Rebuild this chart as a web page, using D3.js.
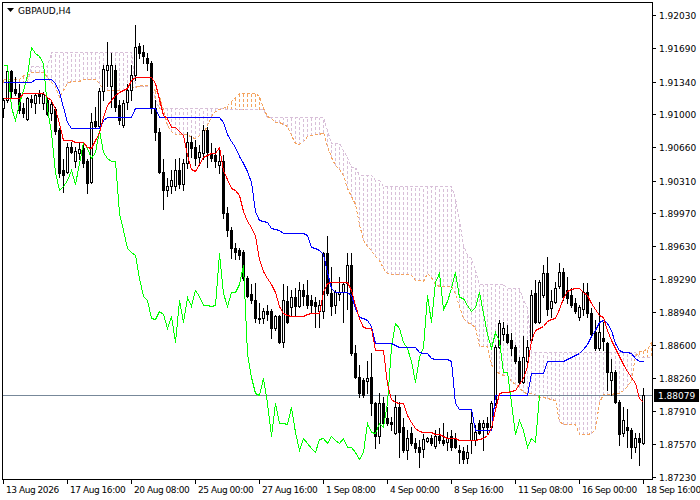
<!DOCTYPE html>
<html><head><meta charset="utf-8">
<script src="https://cdn.jsdelivr.net/npm/d3@7"></script>
<style>html,body{margin:0;padding:0;background:#fff;}svg{display:block;}</style>
</head><body>
<svg id="c" width="700" height="500"></svg>
<script>
const symbol = "GBPAUD,H4";
const lastPrice = 1.88079;
const yTickValues = [1.92030,1.91690,1.91340,1.91000,1.90660,1.90310,1.89970,1.89630,1.89290,1.88940,1.88600,1.88260,1.87910,1.87570,1.87230];
const xTickLabels = ["13 Aug 2026","17 Aug 16:00","20 Aug 08:00","25 Aug 00:00","27 Aug 16:00","1 Sep 08:00","4 Sep 00:00","8 Sep 16:00","11 Sep 08:00","16 Sep 00:00","18 Sep 16:00"];
const barsPerXTick = 16;
const chikouShift = 26;

const open = [1.9106,1.9115,1.9145,1.9126,1.9122,1.9106,1.9095,1.9116,1.9112,1.9122,1.9112,1.9115,1.9101,1.9105,1.9084,1.9042,1.9040,1.9066,1.9051,1.9060,1.9065,1.9051,1.9030,1.9093,1.9088,1.9124,1.9146,1.9129,1.9146,1.9110,1.9089,1.9113,1.9125,1.9141,1.9171,1.9165,1.9159,1.9153,1.9107,1.9082,1.9040,1.9021,1.9025,1.9025,1.9042,1.9027,1.9049,1.9071,1.9066,1.9056,1.9060,1.9084,1.9060,1.9058,1.9047,1.9051,1.8997,1.8980,1.8961,1.8959,1.8957,1.8930,1.8913,1.8907,1.8888,1.8888,1.8895,1.8895,1.8878,1.8890,1.8863,1.8906,1.8900,1.8910,1.8901,1.8917,1.8912,1.8907,1.8905,1.8895,1.8895,1.8956,1.8914,1.8902,1.8913,1.8915,1.8925,1.8943,1.8852,1.8827,1.8824,1.8823,1.8827,1.8800,1.8765,1.8800,1.8784,1.8780,1.8769,1.8796,1.8775,1.8751,1.8769,1.8758,1.8754,1.8752,1.8760,1.8763,1.8755,1.8765,1.8761,1.8759,1.8765,1.8763,1.8751,1.8750,1.8743,1.8761,1.8761,1.8779,1.8775,1.8779,1.8775,1.8800,1.8858,1.8871,1.8871,1.8865,1.8858,1.8843,1.8822,1.8843,1.8865,1.8914,1.8884,1.8912,1.8935,1.8899,1.8905,1.8921,1.8936,1.8917,1.8912,1.8904,1.8889,1.8897,1.8915,1.8893,1.8874,1.8857,1.8867,1.8862,1.8824,1.8832,1.8801,1.8769,1.8775,1.8772,1.8754,1.8763,1.8758];
const high = [1.9117,1.9148,1.9146,1.9139,1.9131,1.9112,1.9118,1.9120,1.9122,1.9125,1.9123,1.9118,1.9115,1.9108,1.9086,1.9053,1.9070,1.9071,1.9066,1.9071,1.9070,1.9053,1.9101,1.9108,1.9127,1.9151,1.9175,1.9164,1.9151,1.9115,1.9115,1.9131,1.9151,1.9193,1.9174,1.9172,1.9164,1.9155,1.9115,1.9086,1.9053,1.9034,1.9042,1.9053,1.9055,1.9053,1.9082,1.9077,1.9073,1.9068,1.9089,1.9087,1.9070,1.9065,1.9063,1.9058,1.9004,1.8983,1.8966,1.8961,1.8959,1.8932,1.8923,1.8925,1.8904,1.8899,1.8902,1.8897,1.8891,1.8891,1.8923,1.8921,1.8917,1.8919,1.8926,1.8923,1.8928,1.8912,1.8910,1.8907,1.8957,1.8973,1.8941,1.8917,1.8931,1.8926,1.8956,1.8956,1.8860,1.8839,1.8826,1.8843,1.8852,1.8801,1.8810,1.8806,1.8796,1.8785,1.8808,1.8801,1.8784,1.8772,1.8775,1.8763,1.8761,1.8767,1.8764,1.8766,1.8772,1.8774,1.8779,1.8770,1.8772,1.8769,1.8756,1.8754,1.8756,1.8791,1.8777,1.8782,1.8782,1.8785,1.8802,1.8860,1.8886,1.8884,1.8881,1.8873,1.8860,1.8848,1.8869,1.8865,1.8917,1.8928,1.8928,1.8943,1.8952,1.8917,1.8926,1.8945,1.8940,1.8931,1.8919,1.8909,1.8902,1.8925,1.8925,1.8899,1.8886,1.8905,1.8884,1.8863,1.8845,1.8834,1.8803,1.8796,1.8793,1.8774,1.8769,1.8769,1.8815];
const low = [1.9097,1.9113,1.9118,1.9120,1.9101,1.9097,1.9094,1.9108,1.9101,1.9112,1.9105,1.9099,1.9094,1.9079,1.9035,1.9019,1.9039,1.9060,1.9045,1.9053,1.9045,1.9018,1.9029,1.9086,1.9086,1.9115,1.9129,1.9108,1.9103,1.9090,1.9087,1.9105,1.9115,1.9136,1.9159,1.9153,1.9146,1.9101,1.9073,1.9039,1.9001,1.9015,1.9018,1.9021,1.9023,1.9021,1.9044,1.9056,1.9047,1.9047,1.9053,1.9045,1.9051,1.9045,1.9039,1.8992,1.8973,1.8951,1.8949,1.8949,1.8928,1.8910,1.8904,1.8884,1.8883,1.8883,1.8886,1.8867,1.8876,1.8862,1.8858,1.8883,1.8891,1.8891,1.8900,1.8902,1.8899,1.8893,1.8879,1.8879,1.8888,1.8912,1.8891,1.8893,1.8907,1.8884,1.8897,1.8850,1.8826,1.8806,1.8806,1.8810,1.8787,1.8753,1.8758,1.8777,1.8777,1.8772,1.8767,1.8744,1.8749,1.8741,1.8756,1.8749,1.8733,1.8744,1.8759,1.8756,1.8753,1.8758,1.8756,1.8751,1.8751,1.8753,1.8737,1.8737,1.8737,1.8748,1.8756,1.8767,1.8751,1.8769,1.8774,1.8798,1.8857,1.8865,1.8862,1.8850,1.8841,1.8821,1.8821,1.8841,1.8862,1.8883,1.8883,1.8910,1.8891,1.8889,1.8904,1.8919,1.8907,1.8904,1.8900,1.8893,1.8886,1.8891,1.8889,1.8869,1.8855,1.8855,1.8855,1.8813,1.8808,1.8800,1.8756,1.8765,1.8754,1.8743,1.8749,1.8735,1.8757];
const close = [1.9115,1.9145,1.9124,1.9122,1.9104,1.9101,1.9117,1.9113,1.9120,1.9119,1.9121,1.9100,1.9111,1.9083,1.9039,1.9037,1.9066,1.9061,1.9062,1.9064,1.9049,1.9029,1.9092,1.9088,1.9124,1.9147,1.9151,1.9151,1.9108,1.9094,1.9112,1.9125,1.9141,1.9170,1.9164,1.9161,1.9153,1.9107,1.9082,1.9040,1.9021,1.9025,1.9032,1.9042,1.9027,1.9049,1.9071,1.9065,1.9055,1.9061,1.9084,1.9061,1.9055,1.9051,1.9051,1.8997,1.8980,1.8961,1.8957,1.8954,1.8930,1.8911,1.8907,1.8888,1.8887,1.8895,1.8892,1.8878,1.8890,1.8863,1.8907,1.8884,1.8910,1.8901,1.8917,1.8911,1.8902,1.8902,1.8901,1.8902,1.8956,1.8914,1.8901,1.8915,1.8915,1.8924,1.8943,1.8852,1.8827,1.8810,1.8808,1.8826,1.8800,1.8765,1.8800,1.8779,1.8779,1.8778,1.8796,1.8770,1.8751,1.8763,1.8758,1.8753,1.8749,1.8762,1.8763,1.8758,1.8765,1.8761,1.8758,1.8763,1.8754,1.8754,1.8749,1.8741,1.8749,1.8779,1.8770,1.8769,1.8779,1.8775,1.8800,1.8858,1.8883,1.8878,1.8863,1.8857,1.8843,1.8822,1.8848,1.8858,1.8912,1.8884,1.8926,1.8935,1.8897,1.8906,1.8919,1.8936,1.8910,1.8909,1.8902,1.8895,1.8900,1.8915,1.8893,1.8871,1.8857,1.8874,1.8864,1.8832,1.8832,1.8801,1.8767,1.8782,1.8772,1.8754,1.8763,1.8759,1.88079];

const tenkan = [1.9117,1.9117,1.9117,1.9117,1.9117,1.9122,1.9122,1.9122,1.9122,1.9122,1.9122,1.9118,1.9115,1.9105,1.9091,1.9073,1.9073,1.9073,1.9071,1.9071,1.9071,1.9066,1.9065,1.9073,1.9081,1.9097,1.9110,1.9115,1.9120,1.9123,1.9125,1.9127,1.9136,1.9139,1.9139,1.9139,1.9139,1.9139,1.9132,1.9116,1.9099,1.9096,1.9087,1.9087,1.9083,1.9078,1.9058,1.9043,1.9041,1.9048,1.9056,1.9058,1.9060,1.9060,1.9066,1.9042,1.9033,1.9023,1.9021,1.9016,1.8999,1.8989,1.8983,1.8973,1.8949,1.8937,1.8930,1.8924,1.8915,1.8901,1.8893,1.8891,1.8890,1.8890,1.8890,1.8890,1.8892,1.8893,1.8893,1.8893,1.8915,1.8925,1.8926,1.8926,1.8926,1.8926,1.8926,1.8917,1.8902,1.8888,1.8879,1.8878,1.8878,1.8855,1.8855,1.8855,1.8819,1.8804,1.8801,1.8800,1.8800,1.8787,1.8780,1.8774,1.8771,1.8770,1.8770,1.8770,1.8768,1.8768,1.8765,1.8763,1.8763,1.8763,1.8761,1.8761,1.8761,1.8761,1.8761,1.8762,1.8763,1.8766,1.8774,1.8793,1.8810,1.8811,1.8811,1.8812,1.8813,1.8819,1.8826,1.8838,1.8865,1.8876,1.8878,1.8880,1.8885,1.8887,1.8888,1.8897,1.8909,1.8916,1.8918,1.8919,1.8919,1.8915,1.8912,1.8904,1.8897,1.8891,1.8889,1.8876,1.8865,1.8857,1.8849,1.8840,1.8833,1.8827,1.8821,1.8805,1.8801];
const kijun = [1.9134,1.9134,1.9134,1.9134,1.9134,1.9134,1.9134,1.9134,1.9137,1.9137,1.9137,1.9137,1.9137,1.9133,1.9123,1.9108,1.9092,1.9086,1.9086,1.9086,1.9086,1.9086,1.9086,1.9086,1.9086,1.9094,1.9097,1.9097,1.9097,1.9097,1.9097,1.9097,1.9097,1.9106,1.9106,1.9106,1.9106,1.9106,1.9106,1.9097,1.9097,1.9097,1.9097,1.9097,1.9097,1.9097,1.9097,1.9097,1.9097,1.9097,1.9097,1.9097,1.9097,1.9097,1.9097,1.9092,1.9079,1.9072,1.9066,1.9057,1.9049,1.9041,1.9030,1.8999,1.8990,1.8989,1.8988,1.8982,1.8981,1.8980,1.8977,1.8977,1.8977,1.8977,1.8977,1.8977,1.8974,1.8962,1.8961,1.8959,1.8955,1.8936,1.8919,1.8915,1.8915,1.8915,1.8915,1.8912,1.8899,1.8889,1.8888,1.8886,1.8880,1.8862,1.8862,1.8862,1.8862,1.8862,1.8860,1.8858,1.8858,1.8858,1.8858,1.8858,1.8853,1.8852,1.8852,1.8847,1.8845,1.8845,1.8845,1.8845,1.8843,1.8800,1.8794,1.8794,1.8794,1.8794,1.8772,1.8772,1.8772,1.8772,1.8772,1.8808,1.8808,1.8808,1.8808,1.8808,1.8808,1.8808,1.8808,1.8808,1.8831,1.8831,1.8831,1.8831,1.8843,1.8843,1.8843,1.8843,1.8843,1.8845,1.8848,1.8850,1.8852,1.8856,1.8861,1.8869,1.8876,1.8884,1.8886,1.8883,1.8876,1.8862,1.8855,1.8853,1.8853,1.8852,1.8847,1.8843,1.8843];
const spanA = [1.9137,1.9137,1.9137,1.9137,1.9137,1.9141,1.9141,1.9144,1.9144,1.9144,1.9144,1.9139,1.9134,1.9129,1.9118,1.9125,1.9133,1.9135,1.9135,1.9135,1.9137,1.9137,1.9137,1.9137,1.9133,1.9125,1.9125,1.9125,1.9125,1.9125,1.9125,1.91285,1.91285,1.91285,1.9130,1.9130,1.9130,1.9127,1.91255,1.91185,1.9105,1.9089,1.9083,1.9079,1.9079,1.9079,1.9079,1.90765,1.9075,1.9078,1.9081,1.9089,1.9098,1.9103,1.9105,1.9107,1.9110,1.9114,1.9118,1.9122,1.9122,1.9122,1.9122,1.9122,1.91185,1.9107,1.9098,1.90965,1.9092,1.9092,1.9090,1.90875,1.9078,1.9070,1.9069,1.90725,1.9077,1.9078,1.9079,1.9079,1.9082,1.9067,1.9056,1.90475,1.90435,1.90365,1.90235,1.9015,1.90065,1.89855,1.8969,1.8963,1.8959,1.8953,1.89485,1.8940,1.8935,1.8934,1.89335,1.89335,1.89335,1.89335,1.8933,1.8928,1.89275,1.89265,1.8935,1.89305,1.8923,1.8921,1.8921,1.8921,1.8921,1.89145,1.89005,1.88885,1.88835,1.8882,1.8879,1.88585,1.88585,1.88585,1.8840,1.8833,1.88305,1.8829,1.8829,1.8823,1.88195,1.88165,1.88115,1.88105,1.88105,1.8808,1.8806,1.8806,1.88045,1.8804,1.8803,1.87815,1.87775,1.87775,1.87775,1.87775,1.8767,1.87675,1.8768,1.8769,1.8773,1.88005,1.8809,1.88095,1.88095,1.8810,1.88105,1.8813,1.88175,1.88235,1.88485,1.88535,1.88545,1.88555,1.88635];
const spanB = [1.9134,1.9134,1.9134,1.9134,1.9134,1.9134,1.9134,1.9150,1.9150,1.9150,1.9150,1.9150,1.9165,1.9165,1.9165,1.9165,1.9165,1.9165,1.9165,1.9165,1.9165,1.9165,1.9165,1.9165,1.9165,1.9165,1.9165,1.9165,1.9165,1.9165,1.9165,1.9165,1.9165,1.9129,1.9129,1.9129,1.9129,1.9129,1.9115,1.9107,1.9107,1.9107,1.9107,1.9107,1.9107,1.9107,1.9107,1.9107,1.9107,1.9107,1.9107,1.9107,1.9107,1.9107,1.9107,1.9107,1.9105,1.9105,1.9105,1.9105,1.9105,1.9105,1.9105,1.9105,1.9105,1.9105,1.9097,1.9097,1.9097,1.9097,1.9097,1.9097,1.9097,1.9097,1.9097,1.9097,1.9097,1.9097,1.9097,1.9097,1.9097,1.9084,1.9070,1.9070,1.9070,1.9063,1.9056,1.9045,1.9045,1.9037,1.9037,1.9037,1.9037,1.9032,1.9032,1.9025,1.9025,1.9025,1.9025,1.9025,1.9025,1.9025,1.9025,1.9025,1.9025,1.9025,1.9025,1.9025,1.9025,1.9025,1.9025,1.9025,1.9025,1.9013,1.8990,1.8964,1.8954,1.8951,1.8938,1.8923,1.8923,1.8923,1.8923,1.8923,1.8923,1.8923,1.8919,1.8919,1.8919,1.8919,1.8907,1.8900,1.8853,1.8853,1.8853,1.8853,1.8853,1.8853,1.8853,1.8853,1.8853,1.8853,1.8853,1.8853,1.8853,1.8853,1.8853,1.8853,1.8853,1.8853,1.8853,1.8853,1.8853,1.8853,1.8853,1.8853,1.8853,1.8853,1.8853,1.8848,1.8848,1.8848,1.8848];

const svg = d3.select('#c');
const P = {l:2, t:2, r:652, b:479};
const x = d3.scaleLinear().domain([0, close.length - 1]).range([3, 643]);
const y = d3.scaleLinear().domain([1.87230, 1.92030]).range([476.8, 15.2]);
const px = i => x(i) + 0.5;
const py = v => Math.round(y(v)) + 0.5;
const FONT = "'DejaVu Sans', Tahoma, sans-serif";

svg.append('rect').attr('width',700).attr('height',500).attr('fill','#fff');
svg.append('defs').append('clipPath').attr('id','clip')
  .append('rect').attr('x',P.l+1).attr('y',P.t+1).attr('width',P.r-P.l-1).attr('height',P.b-P.t-1);

const g = svg.append('g').attr('clip-path','url(#clip)');

// cloud hatching (one dotted vertical per bar)
g.append('g').selectAll('line').data(d3.range(spanA.length)).join('line')
  .attr('x1', px).attr('x2', px)
  .attr('y1', i => py(spanA[i])).attr('y2', i => py(spanB[i]))
  .attr('stroke', i => spanA[i] >= spanB[i] ? '#F4A460' : '#D8BFD8')
  .attr('stroke-width', 1).attr('stroke-dasharray','3,2')
  .attr('shape-rendering','crispEdges');

const line = d3.line().x((d,i) => px(i)).y(d => py(d));
g.append('path').attr('d', line(spanB)).attr('fill','none').attr('stroke','#D8BFD8')
  .attr('stroke-dasharray','3,2').attr('shape-rendering','crispEdges');
g.append('path').attr('d', line(spanA)).attr('fill','none').attr('stroke','#F4A460')
  .attr('stroke-dasharray','3,2').attr('shape-rendering','crispEdges');

// price line
g.append('line').attr('x1',P.l).attr('x2',P.r).attr('y1',py(lastPrice)).attr('y2',py(lastPrice))
  .attr('stroke','#778899').attr('shape-rendering','crispEdges');

// candles
const cg = g.append('g').attr('shape-rendering','crispEdges');
close.forEach((c, i) => {
  const o = open[i];
  cg.append('line').attr('x1',px(i)).attr('x2',px(i))
    .attr('y1', Math.round(y(high[i]))).attr('y2', Math.round(y(low[i])) + 1)
    .attr('stroke','#000');
  const yo = Math.round(y(o)), yc = Math.round(y(c));
  const top = Math.min(yo, yc), bot = Math.max(yo, yc);
  if (c >= o) {
    cg.append('rect').attr('x', x(i) - 0.5).attr('y', top + 0.5)
      .attr('width', 2).attr('height', Math.max(bot - top, 1))
      .attr('fill','#fff').attr('stroke','#000');
  } else {
    cg.append('rect').attr('x', x(i) - 1).attr('y', top)
      .attr('width', 3).attr('height', Math.max(bot - top + 1, 1))
      .attr('fill','#000');
  }
});

// indicator lines
const chikou = close.slice(chikouShift);
g.append('path').attr('d', line(chikou)).attr('fill','none').attr('stroke','#00FF00').attr('shape-rendering','crispEdges');
g.append('path').attr('d', line(kijun)).attr('fill','none').attr('stroke','#0000FF').attr('shape-rendering','crispEdges');
g.append('path').attr('d', line(tenkan)).attr('fill','none').attr('stroke','#FF0000').attr('shape-rendering','crispEdges');

// frame
svg.append('rect').attr('x',P.l+0.5).attr('y',P.t+0.5).attr('width',P.r-P.l).attr('height',P.b-P.t)
  .attr('fill','none').attr('stroke','#000').attr('shape-rendering','crispEdges');

// y axis
const ya = svg.append('g');
yTickValues.forEach(v => {
  const yy = py(v);
  ya.append('line').attr('x1',P.r).attr('x2',P.r+4).attr('y1',yy).attr('y2',yy).attr('stroke','#000').attr('shape-rendering','crispEdges');
  ya.append('text').attr('x',P.r+7).attr('y',yy).attr('dy','0.36em')
    .attr('font-family',FONT).attr('font-size','9px').attr('fill','#000').text(v.toFixed(5));
});

// x axis
const xa = svg.append('g');
xTickLabels.forEach((t, k) => {
  const xx = px(k * barsPerXTick);
  xa.append('line').attr('x1',xx).attr('x2',xx).attr('y1',P.b).attr('y2',P.b+5).attr('stroke','#000').attr('shape-rendering','crispEdges');
  xa.append('text').attr('x', xx + 2.5).attr('y', 493)
    .attr('font-family',FONT).attr('font-size','9px').attr('letter-spacing','-0.45px').attr('fill','#000').text(t);
});

// last price label
const ly = py(lastPrice);
svg.append('rect').attr('x',P.r+2).attr('y',ly-6.5).attr('width',45).attr('height',13).attr('fill','#000');
svg.append('text').attr('x',P.r+6).attr('y',ly).attr('dy','0.36em')
  .attr('font-family',FONT).attr('font-size','9px').attr('fill','#fff').text(lastPrice.toFixed(5));

// title
svg.append('path').attr('d','M7,8 L14,8 L10.5,12 Z').attr('fill','#000');
svg.append('text').attr('x',18).attr('y',14).attr('font-family',FONT).attr('font-size','9px').attr('fill','#000').text(symbol);
</script>
</body></html>
